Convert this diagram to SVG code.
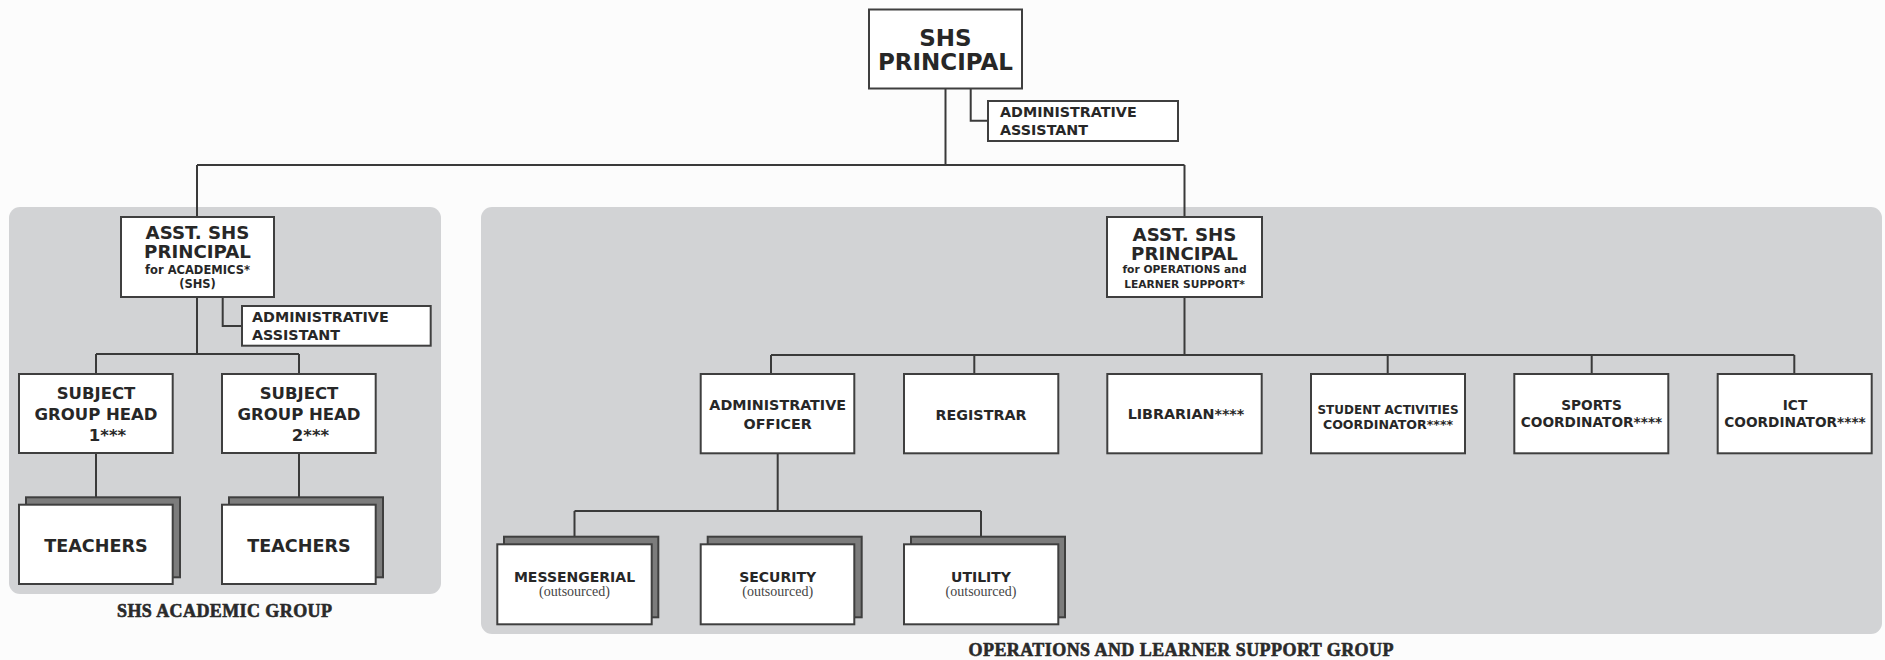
<svg xmlns="http://www.w3.org/2000/svg" width="1885" height="660" viewBox="0 0 1885 660">
<style>
.bg{fill:#fcfcfc}
.grp{fill:#d2d3d5}
.box{fill:#ffffff;stroke:#3f3f3f;stroke-width:2}
.shd{fill:#7c7c7c;stroke:#3f3f3f;stroke-width:2}
.ln{fill:none;stroke:#3a3a3a;stroke-width:2}
text{font-family:"DejaVu Sans","Liberation Sans",sans-serif;font-weight:bold;fill:#272727}
.c{text-anchor:middle}
.sub{font-family:"Liberation Serif","DejaVu Serif",serif;font-weight:normal;fill:#454545;font-size:14px}
.lbl{font-family:"Liberation Serif","DejaVu Serif",serif;font-weight:bold;font-size:18px;fill:#2a2a2a;stroke:#2a2a2a;stroke-width:0.6;text-anchor:middle}
</style>
<rect class="bg" x="0" y="0" width="1885" height="660"/>
<g id="group-academic">
<rect class="grp" x="9" y="207" width="432" height="387" rx="11"/>
<text class="lbl" x="224.5" y="617" textLength="215" lengthAdjust="spacing">SHS ACADEMIC GROUP</text>
</g>
<g id="group-operations">
<rect class="grp" x="481" y="207" width="1401" height="427" rx="11"/>
<text class="lbl" x="1181" y="656" textLength="425" lengthAdjust="spacing">OPERATIONS AND LEARNER SUPPORT GROUP</text>
</g>
<g id="connectors">
<path class="ln" d="M945.5 89 V165 M197 165 H1184.5 M197 165 V217 M1184.5 165 V217"/>
<path class="ln" d="M970.7 89 V120.7 H988"/>
<path class="ln" d="M197 297 V354 M96 354 H299 M96 354 V374 M299 354 V374"/>
<path class="ln" d="M222.7 297 V326 H242"/>
<path class="ln" d="M96 453 V505 M299 453 V505"/>
<path class="ln" d="M1184.5 297 V355 M771 355 H1794.3 M771 355 V374 M974.3 355 V374 M1387.7 355 V374 M1591.7 355 V374 M1794.3 355 V374"/>
<path class="ln" d="M777.7 453 V511 M574.5 511 H981 M574.5 511 V544.3 M981 511 V544.3"/>
</g>
<g id="principal">
<rect class="box" x="869" y="9.5" width="153" height="79"/>
<text class="c" x="945.5" y="46" font-size="23">SHS</text>
<text class="c" x="945.5" y="69.5" font-size="23">PRINCIPAL</text>
</g>
<g id="admin-assistant-top">
<rect class="box" x="988" y="101" width="190" height="40"/>
<text x="1000" y="117" font-size="14.3">ADMINISTRATIVE</text>
<text x="1000" y="135" font-size="14.3">ASSISTANT</text>
</g>
<g id="asst-academics">
<rect class="box" x="121" y="217" width="153" height="80"/>
<text class="c" x="197.5" y="239" font-size="18.2">ASST. SHS</text>
<text class="c" x="197.5" y="258" font-size="18.2">PRINCIPAL</text>
<text class="c" x="197.5" y="274" font-size="11.5">for ACADEMICS*</text>
<text class="c" x="197.5" y="287.5" font-size="11.5">(SHS)</text>
</g>
<g id="admin-assistant-left">
<rect class="box" x="242" y="306" width="188.7" height="39.7"/>
<text x="252" y="321.7" font-size="14.3">ADMINISTRATIVE</text>
<text x="252" y="340" font-size="14.3">ASSISTANT</text>
</g>
<g id="subject-head-1">
<rect class="box" x="19" y="374" width="153.7" height="79"/>
<text class="c" x="96" y="399" font-size="16.5">SUBJECT</text>
<text class="c" x="96" y="420" font-size="16.5">GROUP HEAD</text>
<text class="c" x="107.5" y="441" font-size="16.5">1***</text>
</g>
<g id="subject-head-2">
<rect class="box" x="222" y="374" width="153.7" height="79"/>
<text class="c" x="299" y="399" font-size="16.5">SUBJECT</text>
<text class="c" x="299" y="420" font-size="16.5">GROUP HEAD</text>
<text class="c" x="310.5" y="441" font-size="16.5">2***</text>
</g>
<g id="teachers-1">
<rect class="shd" x="26" y="497.3" width="154" height="80"/>
<rect class="box" x="19" y="504.7" width="153.7" height="79.3"/>
<text class="c" x="96" y="551.7" font-size="17.6">TEACHERS</text>
</g>
<g id="teachers-2">
<rect class="shd" x="229" y="497.3" width="154" height="80"/>
<rect class="box" x="222" y="504.7" width="153.7" height="79.3"/>
<text class="c" x="299" y="551.7" font-size="17.6">TEACHERS</text>
</g>
<g id="asst-operations">
<rect class="box" x="1107" y="217" width="155" height="80"/>
<text class="c" x="1184.5" y="240.7" font-size="18.2">ASST. SHS</text>
<text class="c" x="1184.5" y="260" font-size="18.2">PRINCIPAL</text>
<text class="c" x="1184.5" y="273" font-size="10.7">for OPERATIONS and</text>
<text class="c" x="1184.5" y="287.7" font-size="10.7">LEARNER SUPPORT*</text>
</g>
<g id="admin-officer">
<rect class="box" x="700.7" y="374" width="153.6" height="79.3"/>
<text class="c" x="777.7" y="410" font-size="14.3">ADMINISTRATIVE</text>
<text class="c" x="777.7" y="428.7" font-size="14.3">OFFICER</text>
</g>
<g id="registrar">
<rect class="box" x="904" y="374" width="154.3" height="79.3"/>
<text class="c" x="981" y="420" font-size="14.3">REGISTRAR</text>
</g>
<g id="librarian">
<rect class="box" x="1107.3" y="374" width="154.4" height="79.3"/>
<text class="c" x="1186" y="419" font-size="14.3">LIBRARIAN****</text>
</g>
<g id="student-activities">
<rect class="box" x="1311" y="374" width="154" height="79.3"/>
<text class="c" x="1388" y="414" font-size="12">STUDENT ACTIVITIES</text>
<text class="c" x="1388" y="429.3" font-size="12.6">COORDINATOR****</text>
</g>
<g id="sports-coordinator">
<rect class="box" x="1514.3" y="374" width="154" height="79.3"/>
<text class="c" x="1591.5" y="410" font-size="13.7">SPORTS</text>
<text class="c" x="1591.5" y="427.3" font-size="13.7">COORDINATOR****</text>
</g>
<g id="ict-coordinator">
<rect class="box" x="1717.7" y="374" width="154" height="79.3"/>
<text class="c" x="1795" y="410" font-size="13.7">ICT</text>
<text class="c" x="1795" y="427.3" font-size="13.7">COORDINATOR****</text>
</g>
<g id="messengerial">
<rect class="shd" x="504" y="536.7" width="154.3" height="80.6"/>
<rect class="box" x="497.3" y="544.3" width="154.4" height="80"/>
<text class="c" x="574.5" y="581.7" font-size="14">MESSENGERIAL</text>
<text class="c sub" x="574.5" y="595.5">(outsourced)</text>
</g>
<g id="security">
<rect class="shd" x="707.7" y="536.7" width="154" height="80.6"/>
<rect class="box" x="700.7" y="544.3" width="153.6" height="80"/>
<text class="c" x="777.7" y="581.7" font-size="14">SECURITY</text>
<text class="c sub" x="777.7" y="595.5">(outsourced)</text>
</g>
<g id="utility">
<rect class="shd" x="911" y="536.7" width="154" height="80.6"/>
<rect class="box" x="904" y="544.3" width="154.3" height="80"/>
<text class="c" x="981" y="581.7" font-size="14">UTILITY</text>
<text class="c sub" x="981" y="595.5">(outsourced)</text>
</g>
</svg>
